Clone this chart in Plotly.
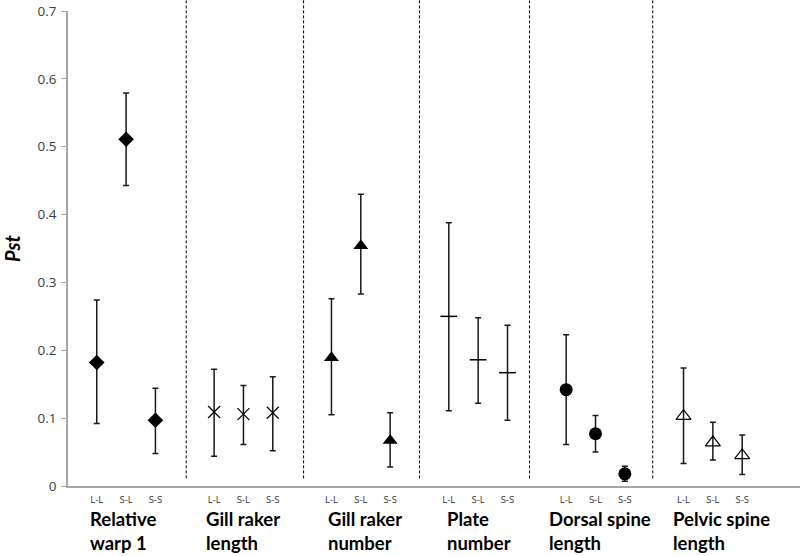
import plotly.graph_objects as go

# Datos (Pst con intervalos)
pares = ["L-L", "S-L", "S-S"]
rasgos = ["Relative<br>warp 1", "Gill raker<br>length", "Gill raker<br>number",
          "Plate<br>number", "Dorsal spine<br>length", "Pelvic spine<br>length"]

rw1_pst = [0.182, 0.511, 0.097]
rw1_sup = [0.274, 0.579, 0.144]
rw1_inf = [0.092, 0.443, 0.048]

grl_pst = [0.109, 0.106, 0.108]
grl_sup = [0.172, 0.148, 0.161]
grl_inf = [0.044, 0.061, 0.052]

grn_pst = [0.189, 0.354, 0.067]
grn_sup = [0.276, 0.430, 0.108]
grn_inf = [0.105, 0.283, 0.028]

plate_pst = [0.250, 0.186, 0.167]
plate_sup = [0.388, 0.248, 0.237]
plate_inf = [0.111, 0.122, 0.097]

dorsal_pst = [0.142, 0.077, 0.018]
dorsal_sup = [0.223, 0.104, 0.029]
dorsal_inf = [0.061, 0.050, 0.007]

pelvic_pst = [0.103, 0.064, 0.045]
pelvic_sup = [0.174, 0.094, 0.075]
pelvic_inf = [0.033, 0.0385, 0.017]

series = [
    (rw1_pst, rw1_sup, rw1_inf),
    (grl_pst, grl_sup, grl_inf),
    (grn_pst, grn_sup, grn_inf),
    (plate_pst, plate_sup, plate_inf),
    (dorsal_pst, dorsal_sup, dorsal_inf),
    (pelvic_pst, pelvic_sup, pelvic_inf),
]

# estilo de marcador por rasgo
simbolos = [
    dict(symbol="diamond", size=12, color="black"),
    dict(symbol="x-thin-open", size=12, color="black", line=dict(width=1.2, color="black")),
    dict(symbol="triangle-up", size=13, color="black"),
    dict(symbol="line-ew-open", size=12, color="black", line=dict(width=1.5, color="black")),
    dict(symbol="circle", size=13, color="black"),
    dict(symbol="triangle-up-open", size=13, color="black", line=dict(width=1.2, color="black")),
]

fig = go.Figure()

tickvals, ticktext = [], []
for g, (pst, sup, inf) in enumerate(series):
    xs = [4 * g + i for i in range(3)]
    tickvals += xs
    ticktext += pares
    fig.add_trace(go.Scatter(
        x=xs, y=pst, mode="markers",
        marker=simbolos[g],
        error_y=dict(
            type="data", symmetric=False,
            array=[s - p for s, p in zip(sup, pst)],
            arrayminus=[p - l for p, l in zip(pst, inf)],
            color="#1a1a1a", thickness=1.5, width=3,
        ),
        showlegend=False,
    ))

# lineas divisorias punteadas
separadores = [3.05, 7.05, 11.0, 14.75, 18.95]
for s in separadores:
    fig.add_shape(type="line", xref="x", yref="paper", x0=s, x1=s, y0=0.016, y1=1.03,
                  line=dict(color="black", width=1, dash="3px,2px"))

# etiquetas de rasgos
pos_etiquetas = [-0.3, 3.66, 7.83, 11.87, 15.33, 19.57]
for txt, xp in zip(rasgos, pos_etiquetas):
    fig.add_annotation(x=xp, xref="x", y=-0.042, yref="paper", text="<b>" + txt + "</b>",
                       showarrow=False, xanchor="left", yanchor="top", align="left",
                       font=dict(family="Lato", size=18.5, color="black"))

fig.update_layout(
    width=800, height=556,
    margin=dict(l=64, r=0, t=11, b=70),
    plot_bgcolor="white", paper_bgcolor="white",
    font=dict(family="Open Sans", color="#404040"),
)
fig.update_xaxes(range=[-0.98, 23.97], showgrid=False, zeroline=False,
                 showline=True, linecolor="#a6a6a6", linewidth=1.5,
                 tickvals=tickvals, ticktext=ticktext, ticks="",
                 ticklabelstandoff=4,
                 tickfont=dict(size=9.5, color="#333333"))
fig.update_yaxes(range=[0, 0.7], showgrid=False, zeroline=False,
                 showline=True, linecolor="#a6a6a6", linewidth=1.5,
                 ticks="outside", ticklen=5, tickcolor="#a6a6a6",
                 ticklabelstandoff=2,
                 tickvals=[0, 0.1, 0.2, 0.3, 0.4, 0.5, 0.6, 0.7],
                 ticktext=["0", "0.1", "0.2", "0.3", "0.4", "0.5", "0.6", "0.7"],
                 tickfont=dict(size=13.5, color="#404040"),
                 title=dict(text="<b><i>Pst</i></b>", font=dict(size=20, color="black", family="Lato"),
                            standoff=24))

# quitar el margen por defecto del body para que el grafico empiece en (0, 0)
fig.write_html("out.html", config={"displayModeBar": False},
               post_script="document.body.style.margin='0';")
